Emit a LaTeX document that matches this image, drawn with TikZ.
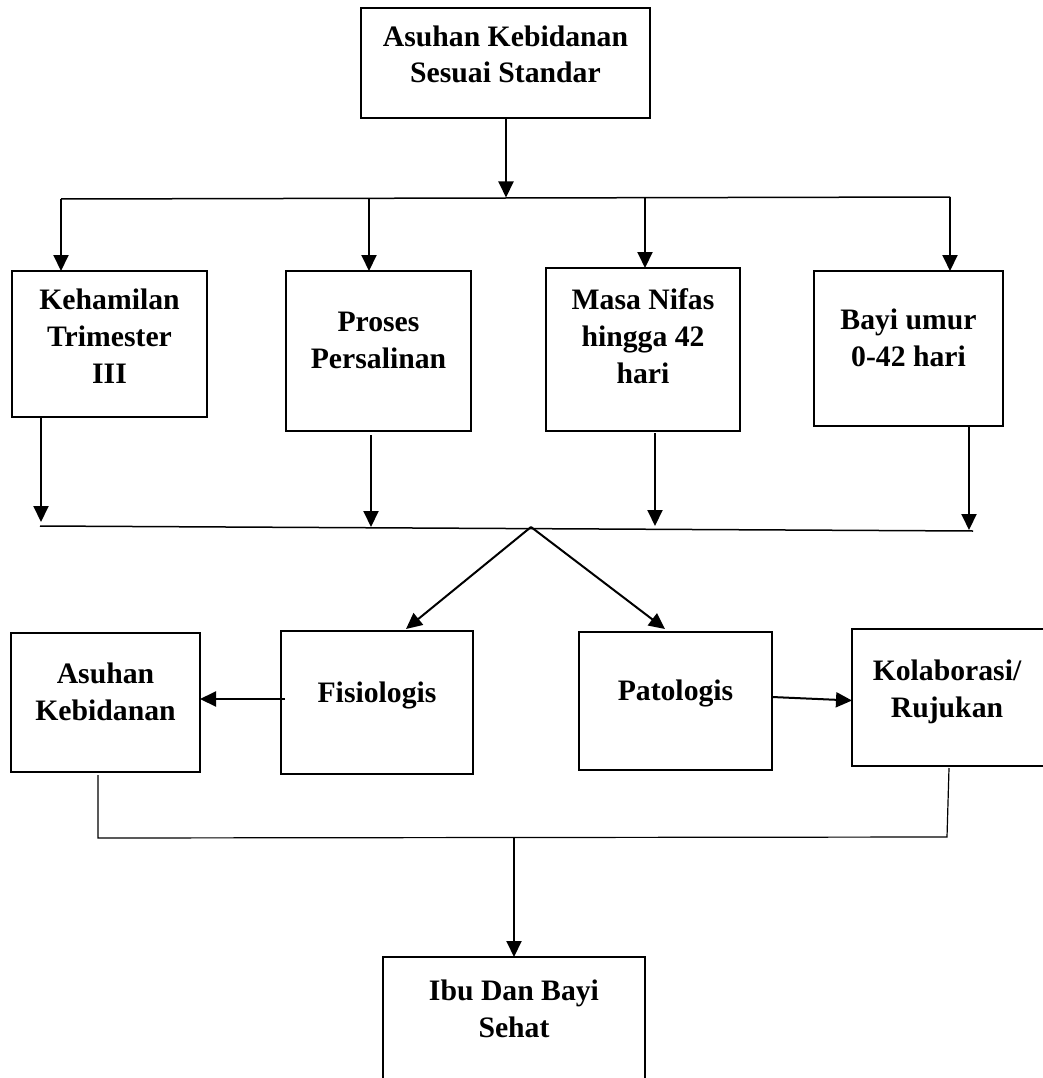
\documentclass[tikz,border=0pt]{standalone}
\usepackage{fontspec}
\setmainfont{Liberation Serif}
\usetikzlibrary{arrows.meta,calc}
\tikzset{
  box/.style={draw=black, line width=2.8pt, fill=none, inner sep=0pt, outer sep=0pt},
  txt/.style={font=\bfseries\fontsize{29.7}{36.7}\selectfont, align=center, inner sep=0pt, anchor=base},
  arr/.style={line width=2pt, -{Triangle[width=15pt,length=16pt]}},
  bus/.style={line width=1.5pt},
  thin/.style={line width=1.2pt}
}
\begin{document}
\begin{tikzpicture}[x=1pt,y=-1pt]
\path[clip] (0,0) rectangle (1043,1078);
% boxes
\node[box, minimum width=289pt, minimum height=110pt] (T) at (505.5,63) {};
\node[box, minimum width=195pt, minimum height=146pt] (K1) at (109.5,344) {};
\node[box, minimum width=185pt, minimum height=160pt] (K2) at (378.5,351) {};
\node[box, minimum width=194pt, minimum height=163pt] (K3) at (643,349.5) {};
\node[box, minimum width=189pt, minimum height=155pt] (K4) at (908.5,348.5) {};
\node[box, minimum width=189pt, minimum height=139pt] (A) at (105.5,702.5) {};
\node[box, minimum width=192pt, minimum height=143pt] (F) at (377,702.5) {};
\node[box, minimum width=193pt, minimum height=138pt] (P) at (675.5,701) {};
\node[box, minimum width=196pt, minimum height=137pt] (R) at (950,697.5) {};
\node[box, minimum width=262pt, minimum height=140pt] (I) at (514,1027) {};
% texts (anchor = baseline of last line)
\node[txt] (tT) at (505.5,83) {Asuhan Kebidanan\\Sesuai Standar};
\node[txt] (t1) at (109.5,383) {Kehamilan\\Trimester\\III};
\node[txt] (t2) at (378.5,368) {Proses\\Persalinan};
\node[txt] (t3) at (643,383) {Masa Nifas\\hingga 42\\hari};
\node[txt] (t4) at (908.5,366) {Bayi umur\\0-42 hari};
\node[txt] (tA) at (105.5,720) {Asuhan\\Kebidanan};
\node[txt] (tF) at (377,702) {Fisiologis};
\node[txt] (tP) at (675.5,700) {Patologis};
\node[txt] (tR) at (947,717) {Kolaborasi/\\Rujukan};
\node[txt] (tI) at (514,1037) {Ibu Dan Bayi\\Sehat};
% bus 1
\coordinate (b1L) at (61,199);
\coordinate (b1R) at (950,197);
\coordinate (b1T) at (506,197.5);
\draw[bus] (b1L) -- (b1R);
\draw[arr] (T.south -| b1T) -- (b1T);
\coordinate (d1) at (61,199);
\coordinate (d2) at (369,198.5);
\coordinate (d3) at (645,198);
\coordinate (d4) at (950,197);
\draw[arr] (d1) -- (d1 |- K1.north);
\draw[arr] (d2) -- (d2 |- K2.north);
\draw[arr] (d3) -- (d3 |- K3.north);
\draw[arr] (d4) -- (d4 |- K4.north);
% bus 2
\coordinate (b2L) at (40,526);
\coordinate (b2R) at (973,531);
\coordinate (apex) at (531,527);
\draw[bus] (b2L) -- (b2R);
\coordinate (u1) at (41,522);
\coordinate (u2) at (371,527);
\coordinate (u3) at (655,526);
\coordinate (u4) at (969,530);
\draw[arr] (K1.south -| u1) -- (u1);
\draw[arr] ([yshift=-4pt]K2.south -| u2) -- (u2);
\draw[arr] ([yshift=-2pt]K3.south -| u3) -- (u3);
\draw[arr] ([yshift=-1pt]K4.south -| u4) -- (u4);
% diagonals
\coordinate (fT) at (406,629);
\coordinate (pT) at (665,629);
\draw[arr] (apex) -- (fT);
\draw[arr] (apex) -- (pT);
% side arrows
\draw[arr] ([yshift=3.5pt,xshift=4pt]F.west) -- (A.east |- 0,699);
\draw[arr] ([yshift=4pt]P.east) -- ([yshift=-3pt]R.west);
% bottom bus
\coordinate (aB) at (98,838);
\coordinate (rB) at (947,837);
\coordinate (iT) at (514,837.5);
\draw[thin] ([yshift=-3pt]A.south -| aB) -- (aB) -- (rB) -- ([yshift=-2pt]R.south -| 949,0);
\draw[arr] (iT) -- (iT |- I.north);
\end{tikzpicture}
\end{document}
